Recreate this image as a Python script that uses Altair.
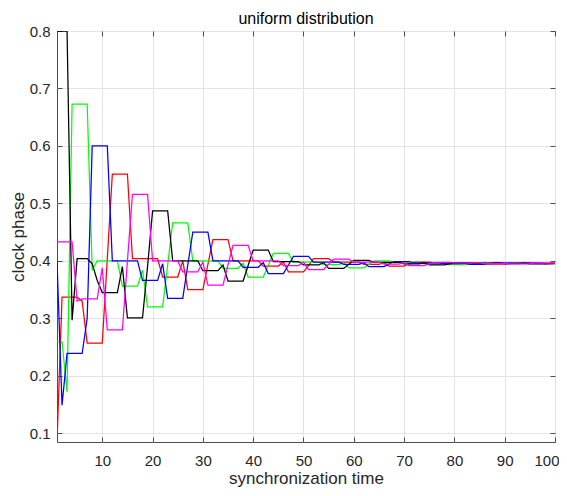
import altair as alt
import pandas as pd

# synchronization time steps 1..100
time_steps = list(range(1, 101))

red = [0.085, 0.337, 0.337, 0.337, 0.337, 0.330, 0.257, 0.257, 0.257, 0.257,
       0.404, 0.551, 0.551, 0.551, 0.551, 0.404, 0.404, 0.404, 0.404, 0.404,
       0.404, 0.372, 0.372, 0.372, 0.372, 0.400, 0.350, 0.350, 0.350, 0.350,
       0.394, 0.437, 0.437, 0.437, 0.437, 0.400, 0.400, 0.400, 0.400, 0.400,
       0.400, 0.391, 0.391, 0.391, 0.391, 0.398, 0.381, 0.381, 0.381, 0.381,
       0.392, 0.404, 0.404, 0.404, 0.404, 0.398, 0.398, 0.398, 0.398, 0.398,
       0.398, 0.394, 0.394, 0.394, 0.394, 0.397, 0.391, 0.391, 0.391, 0.391,
       0.395, 0.398, 0.398, 0.398, 0.398, 0.3965, 0.3965, 0.3965, 0.3965, 0.3965,
       0.3965, 0.395, 0.395, 0.395, 0.395, 0.396, 0.3945, 0.3945, 0.3945, 0.3945,
       0.3955, 0.3965, 0.3965, 0.3965, 0.3965, 0.396, 0.396, 0.396, 0.396, 0.396]

magenta = [0.433, 0.433, 0.433, 0.433, 0.330, 0.334, 0.334, 0.334, 0.334, 0.388,
           0.280, 0.280, 0.280, 0.280, 0.400, 0.516, 0.516, 0.516, 0.516, 0.400,
           0.400, 0.400, 0.400, 0.400, 0.400, 0.381, 0.381, 0.381, 0.381, 0.398,
           0.358, 0.358, 0.358, 0.358, 0.393, 0.427, 0.427, 0.427, 0.427, 0.400,
           0.400, 0.400, 0.400, 0.400, 0.400, 0.392, 0.392, 0.392, 0.392, 0.398,
           0.385, 0.385, 0.385, 0.385, 0.394, 0.403, 0.403, 0.403, 0.403, 0.398,
           0.398, 0.398, 0.398, 0.398, 0.398, 0.3945, 0.3945, 0.3945, 0.3945, 0.397,
           0.392, 0.392, 0.392, 0.392, 0.395, 0.3975, 0.3975, 0.3975, 0.3975, 0.3965,
           0.3965, 0.3965, 0.3965, 0.3965, 0.3965, 0.3952, 0.3952, 0.3952, 0.3952, 0.396,
           0.395, 0.395, 0.395, 0.395, 0.3955, 0.3962, 0.3962, 0.3962, 0.3962, 0.396]

black = [0.800, 0.800, 0.800, 0.297, 0.404, 0.404, 0.404, 0.395, 0.366, 0.345,
         0.345, 0.345, 0.345, 0.390, 0.301, 0.301, 0.301, 0.301, 0.390, 0.487,
         0.487, 0.487, 0.487, 0.400, 0.400, 0.400, 0.400, 0.400, 0.400, 0.383,
         0.383, 0.383, 0.383, 0.393, 0.365, 0.365, 0.365, 0.365, 0.392, 0.419,
         0.419, 0.419, 0.419, 0.399, 0.399, 0.399, 0.399, 0.399, 0.399, 0.393,
         0.393, 0.393, 0.393, 0.397, 0.387, 0.387, 0.387, 0.387, 0.394, 0.401,
         0.401, 0.401, 0.401, 0.3975, 0.3975, 0.3975, 0.3975, 0.3975, 0.3975, 0.3948,
         0.3948, 0.3948, 0.3948, 0.3965, 0.393, 0.393, 0.393, 0.393, 0.395, 0.397,
         0.397, 0.397, 0.397, 0.3962, 0.3962, 0.3962, 0.3962, 0.3962, 0.3962, 0.3953,
         0.3953, 0.3953, 0.3953, 0.396, 0.3948, 0.3948, 0.3948, 0.3948, 0.3955, 0.3958]

green = [0.259, 0.259, 0.172, 0.673, 0.673, 0.673, 0.673, 0.385, 0.400, 0.400,
         0.400, 0.400, 0.400, 0.356, 0.356, 0.356, 0.356, 0.384, 0.320, 0.320,
         0.320, 0.320, 0.393, 0.466, 0.466, 0.466, 0.466, 0.400, 0.400, 0.400,
         0.400, 0.400, 0.400, 0.387, 0.387, 0.387, 0.387, 0.396, 0.372, 0.372,
         0.372, 0.372, 0.392, 0.413, 0.413, 0.413, 0.413, 0.398, 0.398, 0.398,
         0.398, 0.398, 0.398, 0.3935, 0.3935, 0.3935, 0.3935, 0.397, 0.388, 0.388,
         0.388, 0.388, 0.394, 0.400, 0.400, 0.400, 0.400, 0.3972, 0.3972, 0.3972,
         0.3972, 0.3972, 0.3972, 0.395, 0.395, 0.395, 0.395, 0.3962, 0.3935, 0.3935,
         0.3935, 0.3935, 0.395, 0.3968, 0.3968, 0.3968, 0.3968, 0.396, 0.396, 0.396,
         0.396, 0.396, 0.396, 0.3952, 0.3952, 0.3952, 0.3952, 0.3958, 0.3952, 0.3952]

blue = [0.400, 0.149, 0.239, 0.239, 0.239, 0.239, 0.300, 0.600, 0.600, 0.600,
        0.600, 0.400, 0.400, 0.400, 0.400, 0.400, 0.400, 0.366, 0.366, 0.366,
        0.366, 0.395, 0.335, 0.335, 0.335, 0.335, 0.393, 0.450, 0.450, 0.450,
        0.450, 0.400, 0.400, 0.400, 0.400, 0.400, 0.400, 0.389, 0.389, 0.389,
        0.389, 0.397, 0.378, 0.378, 0.378, 0.378, 0.393, 0.408, 0.408, 0.408,
        0.408, 0.398, 0.398, 0.398, 0.398, 0.398, 0.398, 0.394, 0.394, 0.394,
        0.394, 0.397, 0.390, 0.390, 0.390, 0.390, 0.3945, 0.399, 0.399, 0.399,
        0.399, 0.3968, 0.3968, 0.3968, 0.3968, 0.3968, 0.3968, 0.3952, 0.3952, 0.3952,
        0.3952, 0.3962, 0.394, 0.394, 0.394, 0.394, 0.3953, 0.3965, 0.3965, 0.3965,
        0.3965, 0.396, 0.396, 0.396, 0.396, 0.396, 0.396, 0.3955, 0.3955, 0.3955]

series_names = ["red", "green", "blue", "black", "magenta"]
series_values = [red, green, blue, black, magenta]
series_colors = ["#ff0000", "#00ff00", "#0000ff", "#000000", "#ff00ff"]

x_ticks = [10, 20, 30, 40, 50, 60, 70, 80, 90, 100]
y_ticks = [0.1, 0.2, 0.3, 0.4, 0.5, 0.6, 0.7, 0.8]

rows = []
for name, vals in zip(series_names, series_values):
    for t, v in zip(time_steps, vals):
        rows.append({"t": t, "phase": v, "series": name})
df = pd.DataFrame(rows)

W, H = 498, 411
FONT = "Liberation Sans"
TICK_COLOR = "#4d4d4d"

xscale = alt.Scale(domain=[1, 100], nice=False, zero=False)
yscale = alt.Scale(domain=[0.085, 0.8], nice=False, zero=False)

lines = alt.Chart(df).mark_line(strokeWidth=1.25, clip=True).encode(
    x=alt.X("t:Q", scale=xscale,
            axis=alt.Axis(values=x_ticks, orient="bottom", title="synchronization time",
                          grid=True, gridColor="#e3e3e3", ticks=False, tickSize=0,
                          domain=False, labelPadding=11, labelFontSize=15,
                          labelColor="#262626", labelFont=FONT,
                          labelFlush=True, labelFlushOffset=4,
                          titleFont=FONT, titleFontSize=17, titleFontWeight="normal",
                          titleColor="#262626", titleY=36, titleBaseline="middle")),
    y=alt.Y("phase:Q", scale=yscale,
            axis=alt.Axis(values=y_ticks, format=".1f", orient="left", title="clock phase",
                          grid=True, gridColor="#e3e3e3", ticks=False, tickSize=0,
                          domain=False, labelPadding=7, labelFontSize=15,
                          labelColor="#262626", labelFont=FONT,
                          titleFont=FONT, titleFontSize=17, titleFontWeight="normal",
                          titleColor="#262626", titleX=-39, titleY=H / 2,
                          titleBaseline="middle")),
    color=alt.Color("series:N", scale=alt.Scale(domain=series_names, range=series_colors),
                    legend=None),
    order=alt.Order("t:Q"),
)

ticks_a = alt.Chart(df).mark_point(opacity=0).encode(
    x=alt.X("t:Q", scale=xscale,
            axis=alt.Axis(values=x_ticks, orient="top", offset=-H, labels=False, title=None,
                          grid=False, domain=False, ticks=True, tickSize=5,
                          tickColor=TICK_COLOR)),
    y=alt.Y("phase:Q", scale=yscale,
            axis=alt.Axis(values=y_ticks, orient="right", offset=-W, labels=False,
                          title=None, grid=False, domain=False, ticks=True, tickSize=5,
                          tickColor=TICK_COLOR)),
)

ticks_b = alt.Chart(df).mark_point(opacity=0).encode(
    x=alt.X("t:Q", scale=xscale,
            axis=alt.Axis(values=x_ticks, orient="bottom", offset=-H, labels=False,
                          title=None, grid=False, domain=False, ticks=True, tickSize=5,
                          tickColor=TICK_COLOR)),
    y=alt.Y("phase:Q", scale=yscale,
            axis=alt.Axis(values=y_ticks, orient="left", offset=-W, labels=False,
                          title=None, grid=False, domain=False, ticks=True, tickSize=5,
                          tickColor=TICK_COLOR)),
)

chart = alt.layer(lines, ticks_a, ticks_b).resolve_axis(
    x="independent", y="independent"
).properties(
    width=W,
    height=H,
    title=alt.TitleParams("uniform distribution", font=FONT, fontSize=16,
                          fontWeight="normal", color="#000000", anchor="middle",
                          frame="group", offset=5, dy=8),
    autosize=alt.AutoSizeParams(type="none"),
    padding={"left": 49, "top": 23, "right": 4, "bottom": 46},
    background="white",
).configure_view(stroke=TICK_COLOR, strokeWidth=1)

chart.save("out.html", embed_options={"renderer": "svg", "actions": False})
